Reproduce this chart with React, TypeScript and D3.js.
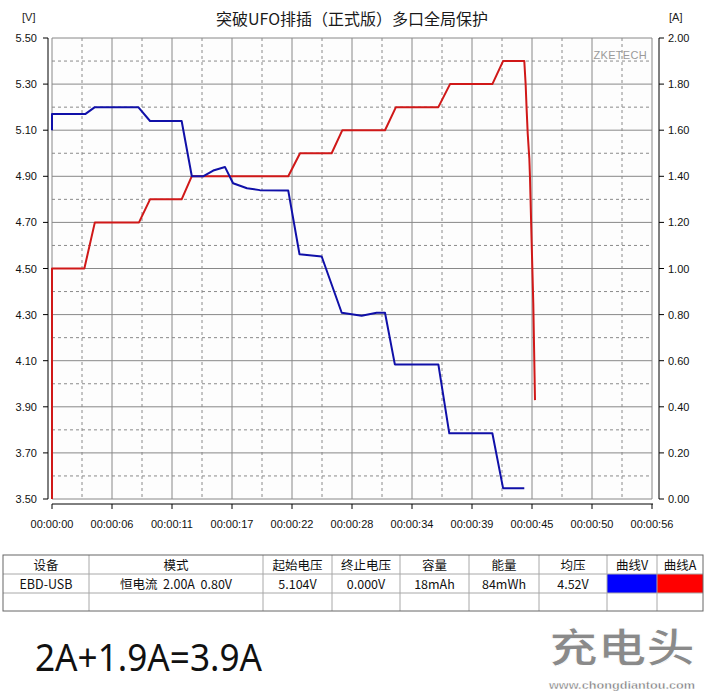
import React from "react";
import * as d3 from "d3";

const timeV = [0, 0, 3.1, 4.0, 8.05, 9.15, 12.1, 13.05, 14.1, 15.05, 16.15, 16.9, 18.2, 19.4, 22.05, 23.1, 25.17, 27.04, 28.9, 30.3, 31.08, 32.0, 36.06, 37.08, 41.1, 42.1, 44.08];
const voltV = [5.10, 5.17, 5.17, 5.20, 5.20, 5.14, 5.14, 4.90, 4.90, 4.925, 4.94, 4.87, 4.848, 4.84, 4.838, 4.562, 4.552, 4.308, 4.295, 4.308, 4.308, 4.084, 4.084, 3.785, 3.785, 3.547, 3.547];

const timeA = [0, 0, 3.02, 4.0, 8.12, 9.15, 12.1, 13.04, 22.05, 23.15, 26.1, 27.1, 31.08, 32.1, 36.06, 37.15, 41.1, 42.1, 44.08, 44.21, 44.3, 44.4, 44.55, 44.61, 44.77, 44.92, 45.08];
const currentA = [0, 1.0, 1.0, 1.2, 1.2, 1.3, 1.3, 1.4, 1.4, 1.5, 1.5, 1.6, 1.6, 1.7, 1.7, 1.8, 1.8, 1.9, 1.9, 1.796, 1.69, 1.586, 1.478, 1.398, 1.109, 0.849, 0.429];

const xTickLabels = ["00:00:00", "00:00:06", "00:00:11", "00:00:17", "00:00:22", "00:00:28", "00:00:34", "00:00:39", "00:00:45", "00:00:50", "00:00:56"];
const vTicks = [3.5, 3.7, 3.9, 4.1, 4.3, 4.5, 4.7, 4.9, 5.1, 5.3, 5.5];
const aTicks = [0, 0.2, 0.4, 0.6, 0.8, 1.0, 1.2, 1.4, 1.6, 1.8, 2.0];

const title = "突破UFO排插（正式版）多口全局保护";
const tableHeaders = ["设备", "模式", "起始电压", "终止电压", "容量", "能量", "均压", "曲线V", "曲线A"];
const tableRow = ["EBD-USB", "恒电流  2.00A  0.80V", "5.104V", "0.000V", "18mAh", "84mWh", "4.52V", "", ""];
const swatchColors = ["#0000ff", "#ff0000"];

const W = 705, H = 696;
const L = 52, R = 652, T = 38, B = 499;
const TMAX = 56;

export default function App() {
  const x = d3.scaleLinear().domain([0, TMAX]).range([L, R]);
  const yV = d3.scaleLinear().domain([3.5, 5.5]).range([B, T]);
  const yA = d3.scaleLinear().domain([0, 2]).range([B, T]);

  const majorX = d3.range(0, 11).map((i) => (i * TMAX) / 10);
  const minorX = d3.range(0, 10).map((i) => ((i + 0.5) * TMAX) / 10);
  const minorY = d3.range(0, 10).map((i) => 3.6 + i * 0.2);

  const vData = timeV.map((t, i) => [t, voltV[i]] as [number, number]);
  const aData = timeA.map((t, i) => [t, currentA[i]] as [number, number]);
  const lineV = d3.line<[number, number]>().x((d) => x(d[0])).y((d) => yV(d[1]));
  const lineA = d3.line<[number, number]>().x((d) => x(d[0])).y((d) => yA(d[1]));

  const cols = [3, 89, 263, 332, 400, 469, 539, 607, 657, 703];
  const rows = [555, 574, 593, 611];
  const axisFont = "'Liberation Sans', Arial, sans-serif";
  const cjkFont = "'Noto Sans CJK SC', 'Liberation Sans', sans-serif";

  return (
    <svg width={W} height={H} style={{ position: "absolute", left: 0, top: 0, background: "#fff" }} fontFamily={axisFont}>
      <rect x={0} y={0} width={W} height={H} fill="#ffffff" />
      <text x={352} y={25} textAnchor="middle" fontSize={16} fontFamily={cjkFont} fill="#1a1a1a">{title}</text>
      <text x={22} y={21} fontSize={11} fill="#222">[V]</text>
      <text x={669} y={21} fontSize={11} fill="#222">[A]</text>

      <rect x={L} y={T} width={R - L} height={B - T} fill="#fdfdfd" />
      {minorX.map((t, i) => (
        <line key={"mx" + i} x1={x(t)} x2={x(t)} y1={T} y2={B} stroke="#8a8a8a" strokeDasharray="3,3" strokeWidth={1} />
      ))}
      {minorY.map((v, i) => (
        <line key={"my" + i} x1={L} x2={R} y1={yV(v)} y2={yV(v)} stroke="#8a8a8a" strokeDasharray="3,3" strokeWidth={1} />
      ))}
      {majorX.map((t, i) => (
        <line key={"gx" + i} x1={x(t)} x2={x(t)} y1={T} y2={B} stroke="#888" strokeWidth={1} />
      ))}
      {vTicks.map((v, i) => (
        <line key={"gy" + i} x1={L} x2={R} y1={yV(v)} y2={yV(v)} stroke="#888" strokeWidth={1} />
      ))}

      <path d={lineA(aData) || ""} fill="none" stroke="#d01818" strokeWidth={2} strokeLinejoin="round" />
      <path d={lineV(vData) || ""} fill="none" stroke="#1010a8" strokeWidth={2} strokeLinejoin="round" />

      <text x={647} y={59} textAnchor="end" fontSize={11} fill="#9a9a9a" letterSpacing={0.3}>ZKETECH</text>

      {/* left axis */}
      <line x1={48} x2={48} y1={T} y2={B} stroke="#000" />
      {vTicks.map((v, i) => (
        <g key={"lt" + i}>
          <line x1={43} x2={48} y1={yV(v)} y2={yV(v)} stroke="#000" />
          <text x={37} y={yV(v) + 4} textAnchor="end" fontSize={11} fill="#111">{v.toFixed(2)}</text>
        </g>
      ))}
      {/* right axis */}
      <line x1={659} x2={659} y1={T} y2={B} stroke="#000" />
      {aTicks.map((a, i) => (
        <g key={"rt" + i}>
          <line x1={659} x2={664} y1={yA(a)} y2={yA(a)} stroke="#000" />
          <text x={668} y={yA(a) + 4} fontSize={11} fill="#111">{a.toFixed(2)}</text>
        </g>
      ))}
      {/* bottom axis */}
      <line x1={L} x2={R + 1} y1={504} y2={504} stroke="#000" />
      {majorX.map((t, i) => (
        <g key={"bt" + i}>
          <line x1={x(t)} x2={x(t)} y1={504} y2={509} stroke="#000" />
          <text x={x(t)} y={528} textAnchor="middle" fontSize={11} fill="#111">{xTickLabels[i]}</text>
        </g>
      ))}

      {/* table */}
      <rect x={cols[7]} y={rows[1]} width={cols[8] - cols[7]} height={rows[2] - rows[1]} fill={swatchColors[0]} />
      <rect x={cols[8]} y={rows[1]} width={cols[9] - cols[8]} height={rows[2] - rows[1]} fill={swatchColors[1]} />
      {rows.slice(1, 3).map((r, i) => (
        <line key={"tr" + i} x1={cols[0]} x2={cols[9]} y1={r} y2={r} stroke="#a8a8a8" />
      ))}
      {cols.slice(1, 9).map((c, i) => (
        <line key={"tc" + i} x1={c} x2={c} y1={rows[0]} y2={rows[3]} stroke="#a8a8a8" />
      ))}
      <rect x={cols[0]} y={rows[0]} width={cols[9] - cols[0]} height={rows[3] - rows[0]} fill="none" stroke="#666" />
      {tableHeaders.map((h, i) => (
        <text key={"th" + i} x={(cols[i] + cols[i + 1]) / 2} y={569.5} textAnchor="middle" fontSize={12.5} fontFamily={cjkFont} fill="#111">{h}</text>
      ))}
      {tableRow.map((h, i) => (
        <text key={"td" + i} x={(cols[i] + cols[i + 1]) / 2} y={588.5} textAnchor="middle" fontSize={12.5} fontFamily={cjkFont} fill="#111" style={{ whiteSpace: "pre" }}>{h}</text>
      ))}

      {/* bottom note */}
      <text x={35} y={671} fontSize={38} fill="#111" textLength={227} lengthAdjust="spacingAndGlyphs" fontFamily="'Noto Sans', 'Liberation Sans', sans-serif">2A+1.9A=3.9A</text>

      {/* watermark logo */}
      <text x={549} y={662} fontSize={40} fontWeight="bold" fontFamily={cjkFont} fill="#8a8a8a" stroke="#ffffff" strokeWidth={1} textLength={146} lengthAdjust="spacingAndGlyphs">充电头</text>
      <text x={549} y={689} fontSize={11} fontWeight="bold" fill="#7a7a7a" stroke="#ffffff" strokeWidth={0.4} textLength={146} lengthAdjust="spacingAndGlyphs">www.chongdiantou.com</text>
    </svg>
  );
}
